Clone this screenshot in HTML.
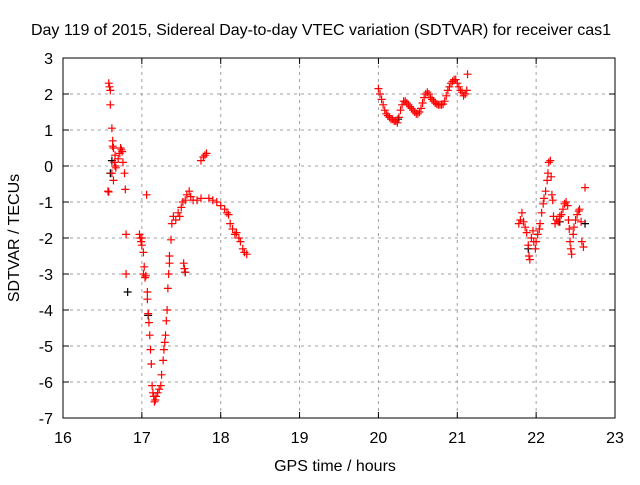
<!DOCTYPE html>
<html><head><meta charset="utf-8"><style>
body{margin:0;background:#fff}
svg{font-family:"Liberation Sans",sans-serif;font-size:16px}
</style></head><body>
<svg id="chart" width="640" height="480">
<rect width="640" height="480" fill="#fff"/>
<text x="321" y="35" text-anchor="middle">Day 119 of 2015, Sidereal Day-to-day VTEC variation (SDTVAR) for receiver cas1</text>
<text x="335" y="471" text-anchor="middle">GPS time / hours</text>
<text transform="translate(19,238) rotate(-90)" text-anchor="middle">SDTVAR / TECUs</text>
<g id="grid"></g><g id="ticks"></g><g id="marks"></g>
<rect x="63" y="58" width="552" height="360" fill="none" stroke="#000"/>
</svg>
<script>
const xTicks=[16,17,18,19,20,21,22,23];
const yTicks=[3,2,1,0,-1,-2,-3,-4,-5,-6,-7];
const redHours=[16.58,16.59,16.6,16.6,16.62,16.63,16.63,16.64,16.66,16.65,16.66,16.67,16.62,16.64,16.57,16.58,16.7,16.72,16.73,16.74,16.75,16.76,16.78,16.79,16.8,16.8,
16.97,16.98,16.99,17.0,17.0,17.02,17.03,17.02,17.04,17.05,17.06,17.07,17.07,17.08,17.09,17.1,17.11,17.12,17.13,17.14,17.15,17.16,17.17,17.18,17.2,17.22,17.24,17.25,17.27,17.28,17.29,17.3,17.31,17.32,17.33,17.34,17.35,17.35,17.37,17.38,17.4,17.43,17.46,17.48,17.5,17.52,17.53,17.54,17.55,17.55,17.57,17.6,17.62,17.65,17.7,17.75,17.75,17.78,17.8,17.82,17.85,17.9,17.95,18.0,18.05,18.08,18.1,18.12,18.15,18.18,18.2,18.23,18.25,18.28,18.3,18.33,
20.00,20.02,20.04,20.06,20.08,20.10,20.12,20.14,20.16,20.18,20.20,20.22,20.24,20.26,20.28,20.30,20.32,20.34,20.36,20.38,20.40,20.42,20.44,20.46,20.48,20.50,20.52,20.54,20.56,20.58,20.60,20.62,20.64,20.66,20.68,20.70,20.72,20.74,20.76,20.78,20.80,20.82,20.84,20.86,20.88,20.90,20.92,20.94,20.96,20.98,21.00,21.02,21.04,21.06,21.08,21.10,21.12,21.13,
21.78,21.8,21.82,21.84,21.86,21.88,21.9,21.91,21.92,21.94,21.96,21.97,21.99,22.0,22.02,22.04,22.05,22.07,22.09,22.1,22.12,22.14,22.15,22.16,22.18,22.19,22.2,22.21,22.22,22.24,22.26,22.28,22.3,22.32,22.34,22.36,22.38,22.4,22.41,22.42,22.43,22.44,22.45,22.47,22.48,22.5,22.52,22.54,22.55,22.57,22.58,22.6,22.62];
const redValues=[2.3,2.2,2.1,1.7,1.05,0.7,0.55,0.5,0.3,0.1,0.0,-0.05,-0.2,-0.4,-0.7,-0.72,0.2,0.35,0.5,0.45,0.4,0.1,-0.2,-0.65,-1.9,-3.0,
-1.9,-2.0,-2.1,-2.2,-2.0,-2.4,-2.8,-3.0,-3.1,-3.05,-0.8,-3.5,-3.7,-4.1,-4.35,-4.7,-5.1,-5.5,-6.1,-6.3,-6.4,-6.55,-6.5,-6.4,-6.3,-6.2,-6.1,-5.8,-5.4,-5.1,-4.9,-4.7,-4.3,-4.0,-3.4,-3.0,-2.7,-2.5,-2.05,-1.6,-1.4,-1.5,-1.3,-1.4,-1.15,-1.0,-2.7,-2.85,-2.95,-0.95,-0.8,-0.7,-0.85,-0.95,-0.95,-0.9,0.15,0.25,0.3,0.35,-0.9,-0.95,-1.0,-1.1,-1.2,-1.3,-1.35,-1.6,-1.75,-1.9,-1.85,-2.0,-2.1,-2.3,-2.4,-2.45,
2.15,2.0,1.85,1.7,1.55,1.45,1.4,1.35,1.3,1.3,1.25,1.25,1.2,1.35,1.55,1.7,1.8,1.8,1.75,1.7,1.65,1.6,1.55,1.5,1.45,1.45,1.5,1.6,1.75,1.9,2.0,2.05,2.0,1.9,1.85,1.8,1.75,1.72,1.7,1.7,1.7,1.72,1.8,1.95,2.1,2.2,2.3,2.35,2.4,2.4,2.3,2.2,2.1,2.05,1.95,2.0,2.1,2.55,
-1.6,-1.5,-1.3,-1.55,-1.7,-1.85,-2.2,-2.5,-2.6,-2.0,-1.8,-2.1,-2.3,-2.1,-1.9,-1.75,-1.6,-1.3,-1.05,-0.9,-0.7,-0.4,-0.2,0.1,0.15,-0.3,-0.8,-0.95,-1.4,-1.6,-1.5,-1.55,-1.4,-1.35,-1.2,-1.05,-1.0,-1.1,-1.5,-1.75,-2.1,-2.3,-2.45,-1.9,-1.7,-1.5,-1.35,-1.25,-1.2,-1.55,-2.1,-2.25,-0.6];
const blackHours=[16.6,16.62,16.82,17.08,17.55,21.9,22.62,22.3,20.25];
const blackValues=[-0.2,0.15,-3.5,-4.15,-2.95,-2.3,-1.6,-1.55,1.3];
const L=63,R=615,T=58,B=418;
const xs=h=>L+(h-16)/7*(R-L);
const ys=v=>T+(3-v)/10*(B-T);
const NS='http://www.w3.org/2000/svg';
function mk(tag,attrs,parent){const e=document.createElementNS(NS,tag);for(const k in attrs)e.setAttribute(k,attrs[k]);parent.appendChild(e);return e;}
const grid=document.getElementById('grid'),ticks=document.getElementById('ticks'),marks=document.getElementById('marks');
xTicks.forEach(t=>{const x=xs(t);
 if(t>16&&t<23){const g=mk('line',{x1:x,x2:x,y1:T,y2:B,stroke:'#a0a0a0','stroke-dasharray':'3,4'},grid);
 
 }
 mk('line',{x1:x,x2:x,y1:B,y2:B-6,stroke:'#000'},ticks);mk('line',{x1:x,x2:x,y1:T,y2:T+6,stroke:'#000'},ticks);
 const tx=mk('text',{x:x,y:B+25,'text-anchor':'middle'},ticks);tx.textContent=t;
 
 });
yTicks.forEach(t=>{const y=ys(t);
 if(t<3&&t>-7){const g=mk('line',{x1:L,x2:R,y1:y,y2:y,stroke:'#a0a0a0','stroke-dasharray':'3,4'},grid);
 
 }
 mk('line',{x1:L,x2:L+6,y1:y,y2:y,stroke:'#000'},ticks);mk('line',{x1:R,x2:R-6,y1:y,y2:y,stroke:'#000'},ticks);
 const tx=mk('text',{x:L-10,y:y+6,'text-anchor':'end'},ticks);tx.textContent=t;
 
 });
function plus(h,v,col,name){const x=xs(h),y=ys(v);
 const p=mk('path',{d:`M${x-4},${y}H${x+4}M${x},${y-4}V${y+4}`,stroke:col,'stroke-width':1.2,fill:'none'},marks);
 
 }
blackHours.forEach((h,i)=>plus(h,blackValues[i],'#000','sdtvar-point-black'));
redHours.forEach((h,i)=>plus(h,redValues[i],'#f00','sdtvar-point'));
</script>
</body></html>
